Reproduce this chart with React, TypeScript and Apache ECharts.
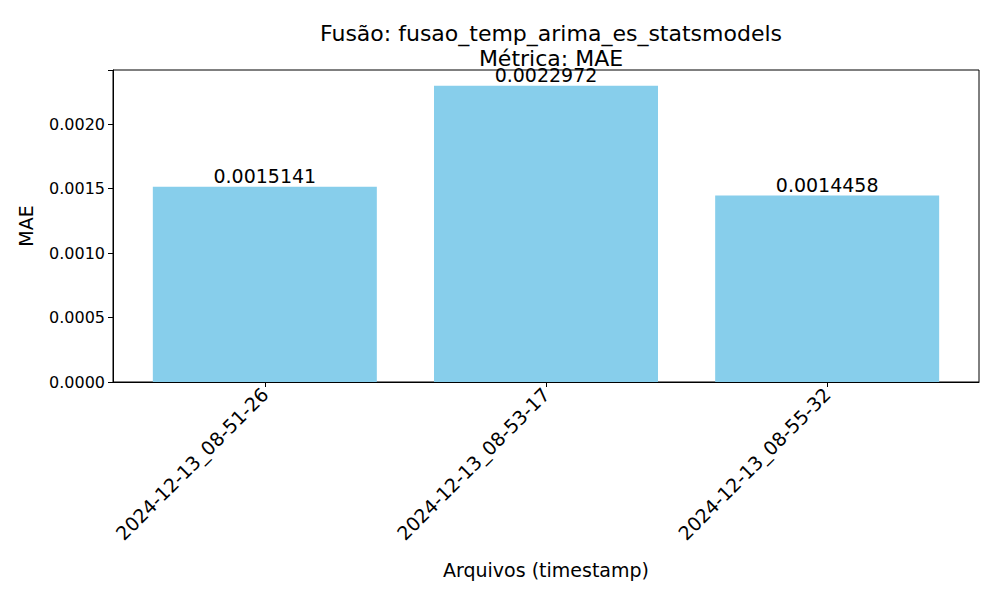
import React, { useEffect, useRef } from 'react';
import * as echarts from 'echarts';

const categories = ['2024-12-13_08-51-26', '2024-12-13_08-53-17', '2024-12-13_08-55-32'];
const maeValues = [0.0015141, 0.0022972, 0.0014458];
const barLabels = ['0.0015141', '0.0022972', '0.0014458'];

export default function App() {
  const ref = useRef<HTMLDivElement>(null);

  useEffect(() => {
    if (!ref.current) return;
    const chart = echarts.init(ref.current, undefined, { renderer: 'svg' });
    const font = 'DejaVu Sans';
    chart.setOption({
      animation: false,
      textStyle: { fontFamily: font },
      title: {
        text: 'Fusão: fusao_temp_arima_es_statsmodels\nMétrica: MAE',
        left: 546,
        top: 16,
        textAlign: 'center',
        textStyle: { fontFamily: font, fontSize: 22, fontWeight: 'normal', color: '#000', lineHeight: 25 },
      },
      grid: {
        left: 113,
        right: 21,
        top: 70,
        bottom: 218,
        show: true,
        borderColor: '#000',
        borderWidth: 1,
        backgroundColor: 'transparent',
      },
      xAxis: {
        type: 'value',
        min: -0.54,
        max: 2.54,
        name: 'Arquivos (timestamp)',
        nameLocation: 'middle',
        nameGap: 178,
        nameTextStyle: { fontFamily: font, fontSize: 19, color: '#000' },
        splitLine: { show: false },
        axisLine: { show: true, onZero: false, lineStyle: { color: '#000' } },
        axisTick: { show: true, customValues: [0, 1, 2], length: 5, lineStyle: { color: '#000' } },
        axisLabel: {
          customValues: [0, 1, 2],
          rotate: 45,
          fontSize: 19,
          color: '#000',
          margin: 9,
          formatter: (v: number) => categories[Math.round(v)] ?? '',
        },
      },
      yAxis: {
        type: 'value',
        min: 0,
        max: 0.002419,
        interval: 0.0005,
        name: 'MAE',
        nameLocation: 'middle',
        nameGap: 78,
        nameTextStyle: { fontFamily: font, fontSize: 19, color: '#000' },
        splitLine: { show: false },
        axisLine: { show: true, onZero: false, lineStyle: { color: '#000' } },
        axisTick: { show: true, length: 5, lineStyle: { color: '#000' } },
        axisLabel: {
          fontSize: 16,
          color: '#000',
          margin: 8,
          formatter: (v: number) => (v > 0.00241 ? '' : v.toFixed(4)),
        },
      },
      series: [
        {
          type: 'bar',
          barWidth: 224,
          data: maeValues.map((v, i) => [i, v]),
          itemStyle: { color: '#87CEEB' },
          label: {
            show: true,
            position: 'top',
            distance: 1,
            fontSize: 19,
            color: '#000',
            fontFamily: font,
            formatter: (p: any) => barLabels[p.dataIndex],
          },
        },
      ],
    });
    return () => chart.dispose();
  }, []);

  return <div ref={ref} style={{ width: 1000, height: 600, margin: -8 }} />;
}
